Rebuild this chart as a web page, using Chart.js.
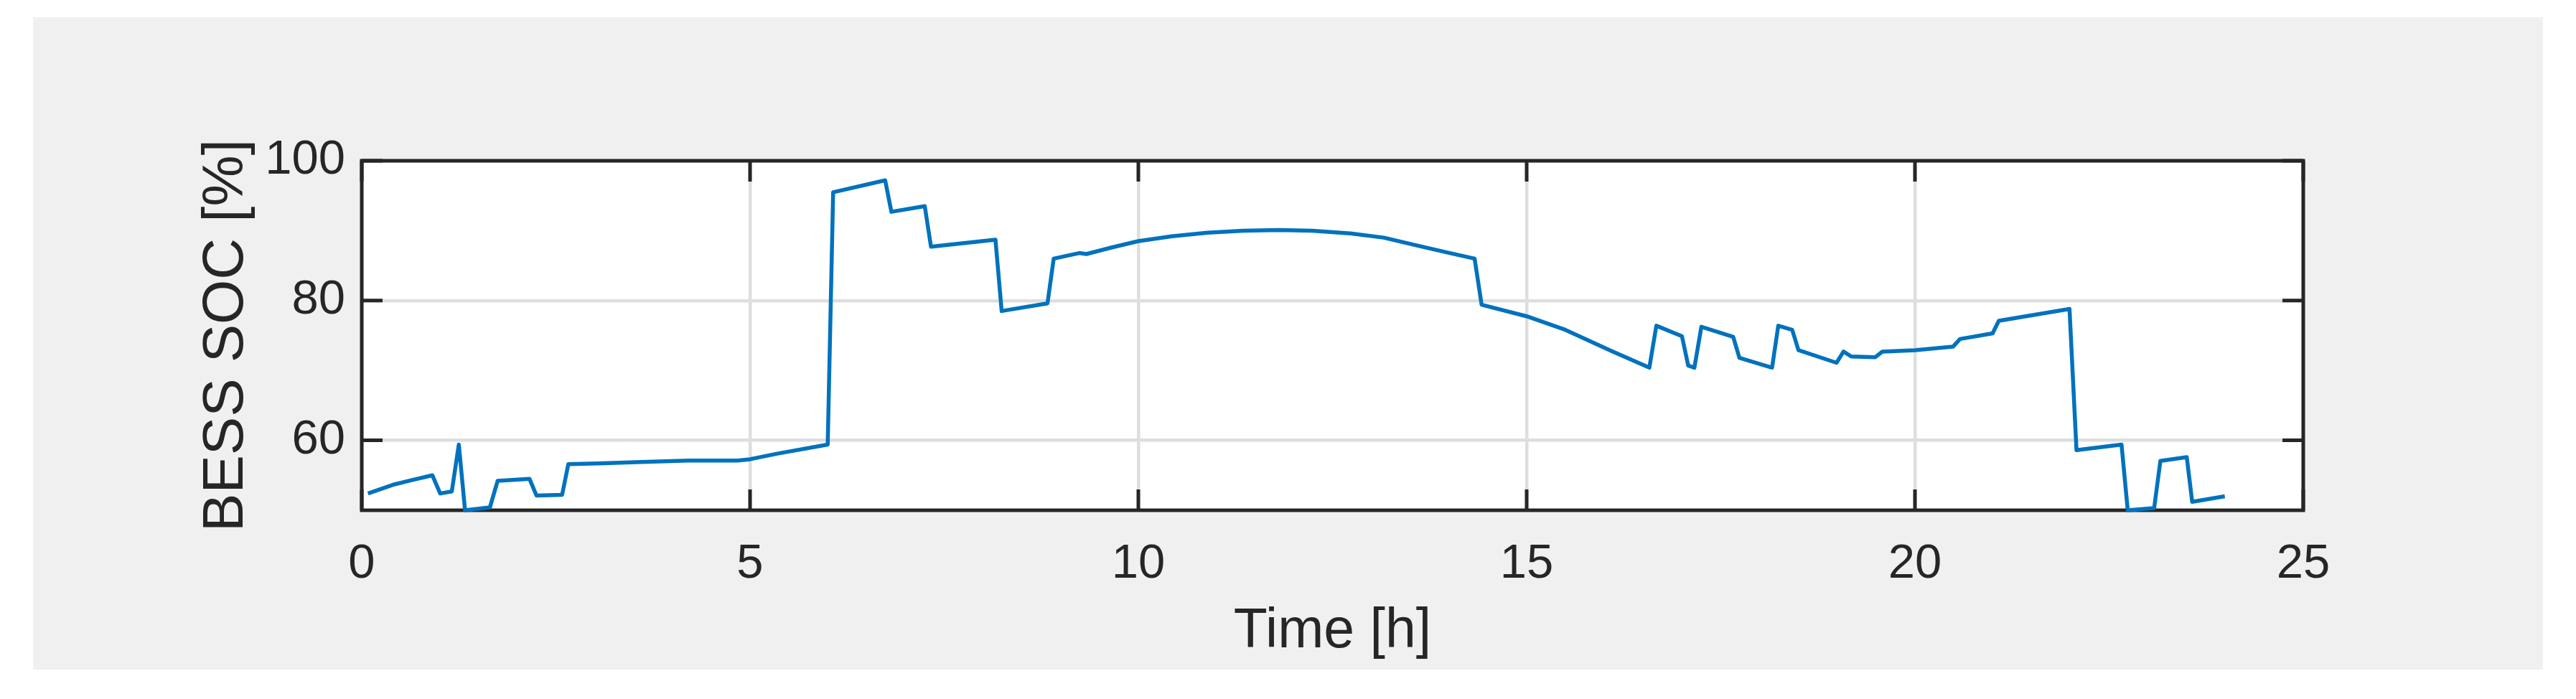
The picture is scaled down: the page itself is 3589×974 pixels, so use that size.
<!DOCTYPE html>
<html>
<head>
  <meta charset="UTF-8" />
  <title>BESS SOC</title>
  <script src="https://cdn.jsdelivr.net/npm/chart.js"></script>
  <style>
    body { margin: 0; background: #ffffff; }
    #wrap { width: 3589px; height: 974px; position: relative; }
  </style>
</head>
<body>
  <div id="wrap"><canvas id="soc"></canvas></div>

  <script>
    // Time [h] and BESS SOC [%]
    const timeH = [0.08, 0.42, 0.64, 0.91, 1.01, 1.16, 1.25, 1.33, 1.65, 1.75, 2.16, 2.25, 2.58, 2.66, 3.04, 3.6, 4.21, 4.84, 5.0, 5.35, 6.0,
      6.07, 6.74, 6.82, 7.25, 7.33, 8.16, 8.24, 8.83, 8.91, 9.24, 9.33, 9.66, 10.0, 10.43, 10.89, 11.35, 11.81, 12.24, 12.73, 13.16, 13.6, 13.97, 14.33,
      14.42, 15.0, 15.5, 16.09, 16.58, 16.67, 17.0, 17.08, 17.16, 17.25, 17.66, 17.74, 18.16, 18.24, 18.42, 18.5, 18.99, 19.08, 19.18, 19.49, 19.58,
      20.0, 20.49, 20.58, 21.0, 21.08, 21.99, 22.08, 22.66, 22.74, 23.08, 23.16, 23.5, 23.57, 23.99];
    const socPct = [52.4, 53.7, 54.3, 55.0, 52.4, 52.7, 59.4, 50.0, 50.4, 54.2, 54.5, 52.1, 52.2, 56.6, 56.7, 56.9, 57.1, 57.1, 57.3, 58.1, 59.4,
      95.5, 97.2, 92.7, 93.5, 87.7, 88.7, 78.5, 79.6, 86.0, 86.8, 86.65, 87.6, 88.5, 89.2, 89.7, 90.0, 90.1, 90.0, 89.6, 89.0, 87.85, 86.9, 86.0,
      79.4, 77.75, 75.8, 72.8, 70.4, 76.4, 74.9, 70.7, 70.4, 76.25, 74.8, 71.8, 70.4, 76.4, 75.8, 72.9, 71.1, 72.7, 72.0, 71.9, 72.7,
      72.9, 73.4, 74.5, 75.3, 77.1, 78.8, 58.6, 59.4, 50.0, 50.3, 57.05, 57.6, 51.2, 52.0];
    const xTicks = [0, 5, 10, 15, 20, 25];
    const yTicks = [60, 80, 100];

    const ink = '#262626';
    const fontFam = '"Liberation Sans", Arial, Helvetica, sans-serif';

    // fond gris de la figure, zone du graphe en blanc
    const figureBg = {
      id: 'figureBg',
      beforeDraw(chart) {
        const c = chart.ctx, a = chart.chartArea;
        c.save();
        c.fillStyle = '#ffffff';
        c.fillRect(0, 0, chart.width, chart.height);
        c.fillStyle = '#f0f0f0';
        c.fillRect(46, 24, 3497, 909);
        c.fillStyle = '#ffffff';
        c.fillRect(a.left, a.top, a.right - a.left, a.bottom - a.top);
        c.restore();
      }
    };

    // cadre + graduations vers l'intérieur (style MATLAB)
    const boxTicks = {
      id: 'boxTicks',
      beforeDatasetsDraw(chart) {
        const c = chart.ctx, a = chart.chartArea;
        const xs = chart.scales.x, ys = chart.scales.y;
        const len = 29;
        c.save();
        c.strokeStyle = ink;
        c.lineWidth = 5;
        c.beginPath();
        xTicks.forEach(v => {
          const px = xs.getPixelForValue(v);
          c.moveTo(px, a.bottom); c.lineTo(px, a.bottom - len);
          c.moveTo(px, a.top); c.lineTo(px, a.top + len);
        });
        yTicks.forEach(v => {
          const py = ys.getPixelForValue(v);
          c.moveTo(a.left, py); c.lineTo(a.left + len, py);
          c.moveTo(a.right, py); c.lineTo(a.right - len, py);
        });
        c.stroke();
        c.strokeRect(a.left, a.top, a.right - a.left, a.bottom - a.top);
        c.restore();
      }
    };

    new Chart(document.getElementById('soc'), {
      type: 'line',
      data: {
        datasets: [{
          data: timeH.map((t, i) => ({ x: t, y: socPct[i] })),
          borderColor: '#0072BD',
          borderWidth: 5.5,
          borderJoinStyle: 'round',
          pointRadius: 0,
          tension: 0,
          fill: false,
          clip: false
        }]
      },
      options: {
        responsive: true,
        maintainAspectRatio: false,
        animation: false,
        layout: { padding: { left: 0, top: 224, right: 380, bottom: 0 } },
        plugins: { legend: { display: false }, tooltip: { enabled: false } },
        scales: {
          x: {
            type: 'linear',
            min: 0, max: 25,
            afterBuildTicks: s => { s.ticks = xTicks.map(v => ({ value: v })); },
            afterFit: s => { s.height = 263; },
            border: { display: false },
            grid: { color: '#dedede', lineWidth: 4.5, drawTicks: false },
            ticks: { autoSkip: false, maxRotation: 0, padding: 35, color: ink, font: { family: fontFam, size: 67 } },
            title: { display: true, text: 'Time [h]', color: ink, font: { family: fontFam, size: 77, lineHeight: 1 }, padding: { top: 0, bottom: 55 } }
          },
          y: {
            min: 50, max: 100,
            afterBuildTicks: s => { s.ticks = yTicks.map(v => ({ value: v })); },
            afterFit: s => { s.width = 504; },
            border: { display: false },
            grid: { color: '#dedede', lineWidth: 4.5, drawTicks: false },
            ticks: { padding: 23, color: ink, font: { family: fontFam, size: 67 } },
            title: { display: true, text: 'BESS SOC [%]', color: ink, font: { family: fontFam, size: 80, lineHeight: 1 }, padding: { top: 276, bottom: 0 } }
          }
        }
      },
      plugins: [figureBg, boxTicks]
    });
  </script>
</body>
</html>
